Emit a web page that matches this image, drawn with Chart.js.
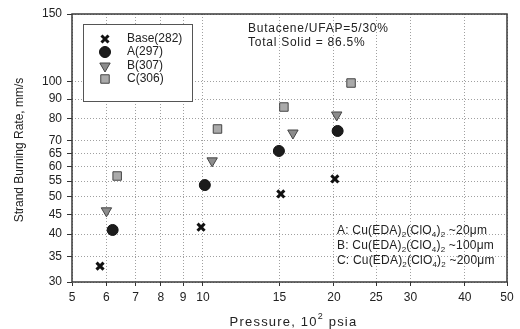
<!DOCTYPE html>
<html>
<head>
<meta charset="utf-8">
<script src="https://cdn.jsdelivr.net/npm/chart.js@4/dist/chart.umd.min.js"></script>
<style>
  html, body { margin: 0; padding: 0; background: #fff; }
  #wrap { width: 520px; height: 329px; }
</style>
</head>
<body>
<div id="wrap"><canvas id="chart"></canvas></div>
<script>
// pressure (10^2 psia) and burning rate (mm/s)
const pressureBase = [5.8, 9.9, 15.1, 20.1];
const rateBase = [33.0, 41.7, 50.9, 55.7];
const pressureA = [6.2, 10.1, 14.95, 20.4];
const rateA = [41.0, 53.7, 65.9, 74.3];
const pressureB = [6.0, 10.5, 16.1, 20.3];
const rateB = [46.0, 62.1, 73.4, 81.8];
const pressureC = [6.35, 10.8, 15.35, 21.9];
const rateC = [56.7, 75.2, 85.8, 99.1];

const seriesNames = ['Base(282)', 'A(297)', 'B(307)', 'C(306)'];
const xTicks = [5, 6, 7, 8, 9, 10, 15, 20, 25, 30, 40, 50];
const yTicks = [30, 35, 40, 45, 50, 55, 60, 65, 70, 80, 90, 100, 150];

const FONT = 'Liberation Sans, Arial, sans-serif';

const toPts = (xs, ys) => xs.map((x, i) => ({ x: x, y: ys[i] }));

const styles = [
    { pointStyle: 'crossRot', radius: 5, borderWidth: 3, borderColor: '#111', backgroundColor: '#111', rotation: 0 },
    { pointStyle: 'circle', radius: 5.5, borderWidth: 1, borderColor: '#111', backgroundColor: '#1c1c1c', rotation: 0 },
    { pointStyle: 'triangle', radius: 6, borderWidth: 1, borderColor: '#444', backgroundColor: '#8c8c8c', rotation: 180 },
    { pointStyle: 'rect', radius: 6, borderWidth: 1, borderColor: '#444', backgroundColor: '#aaaaaa', rotation: 0 },
];

const allData = [
    toPts(pressureBase, rateBase),
    toPts(pressureA, rateA),
    toPts(pressureB, rateB),
    toPts(pressureC, rateC),
];

const datasets = allData.map((d, i) => ({
    label: seriesNames[i],
    data: d,
    showLine: false,
    pointStyle: styles[i].pointStyle,
    pointRadius: styles[i].radius,
    pointHoverRadius: styles[i].radius,
    pointBorderWidth: styles[i].borderWidth,
    pointBorderColor: styles[i].borderColor,
    pointBackgroundColor: styles[i].backgroundColor,
    pointRotation: styles[i].rotation,
}));

// draw text with subscript / superscript pieces: parts = [[text, shift], ...]
function drawRich(ctx, parts, x, y, size, small) {
    let cx = x;
    parts.forEach((p) => {
        if (p[1]) {
            ctx.font = small + 'px ' + FONT;
            ctx.fillText(p[0], cx, y + p[1]);
        } else {
            ctx.font = size + 'px ' + FONT;
            ctx.fillText(p[0], cx, y);
        }
        cx += ctx.measureText(p[0]).width;
    });
    return cx - x;
}

const extras = {
    id: 'extras',
    afterDatasetsDraw(chart) {
        const ctx = chart.ctx;
        const a = chart.chartArea;
        ctx.save();

        // plot frame
        ctx.strokeStyle = '#3a3a3a';
        ctx.lineWidth = 1.5;
        ctx.strokeRect(a.left, a.top, a.right - a.left, a.bottom - a.top);

        // legend box
        ctx.fillStyle = '#fff';
        ctx.fillRect(83, 24, 109, 77);
        ctx.strokeStyle = '#555';
        ctx.lineWidth = 1;
        ctx.strokeRect(83.5, 24.5, 109, 77);
        const rows = [39, 52, 66, 79];
        rows.forEach((ry, i) => {
            const s = styles[i];
            ctx.fillStyle = s.backgroundColor;
            ctx.strokeStyle = s.borderColor;
            ctx.lineWidth = s.borderWidth;
            if (Chart.helpers && Chart.helpers.drawPoint) {
                Chart.helpers.drawPoint(ctx, {
                    pointStyle: s.pointStyle, radius: s.radius, rotation: s.rotation, borderWidth: s.borderWidth
                }, 105, ry);
            }
            ctx.fillStyle = '#222';
            ctx.font = '12px ' + FONT;
            ctx.textBaseline = 'middle';
            ctx.textAlign = 'left';
            ctx.fillText(seriesNames[i], 127, ry);
        });

        // composition notes
        ctx.fillStyle = '#222';
        ctx.textBaseline = 'middle';
        ctx.textAlign = 'left';
        ctx.letterSpacing = '0.75px';
        ctx.font = '12px ' + FONT;
        ctx.fillText('Butacene/UFAP=5/30%', 248, 29);
        ctx.fillText('Total Solid = 86.5%', 248, 43);

        ctx.letterSpacing = '0.2px';
        const notes = [['A', '~20\u03bcm', 231], ['B', '~100\u03bcm', 246], ['C', '~200\u03bcm', 261]];
        notes.forEach((n) => {
            drawRich(ctx, [[n[0] + ': Cu(EDA)', 0], ['2', 4], ['(ClO', 0], ['4', 4], [')', 0], ['2', 4], [' ' + n[1], 0]], 337, n[2], 12, 8);
        });

        // axis titles
        ctx.letterSpacing = '1.2px';
        const xParts = [['Pressure, 10', 0], ['2', -5], [' psia', 0]];
        const measure = document.createElement('canvas').getContext('2d');
        measure.letterSpacing = '1.2px';
        let w = 0;
        xParts.forEach((p) => {
            measure.font = (p[1] ? 9 : 13) + 'px ' + FONT;
            w += measure.measureText(p[0]).width;
        });
        drawRich(ctx, xParts, (a.left + a.right) / 2 - w / 2 + 4, 322, 13, 9);

        ctx.letterSpacing = '0px';
        ctx.translate(20, 150);
        ctx.rotate(-Math.PI / 2);
        ctx.textAlign = 'center';
        ctx.font = '12px ' + FONT;
        ctx.fillText('Strand Burning Rate, mm/s', 0, 0);
        ctx.restore();
    }
};

const gridOpts = (len) => ({
    color: '#a0a0a0',
    lineWidth: 1,
    tickLength: len,
    tickColor: '#333',
    tickBorderDash: [],
});

new Chart(document.getElementById('chart'), {
    type: 'scatter',
    data: { datasets: datasets },
    options: {
        responsive: true,
        maintainAspectRatio: false,
        animation: false,
        layout: { padding: { top: 14, right: 13, left: 0, bottom: 0 } },
        plugins: { legend: { display: false }, tooltip: { enabled: false } },
        scales: {
            x: {
                type: 'logarithmic',
                min: 5,
                max: 50,
                afterBuildTicks: (scale) => { scale.ticks = xTicks.map((v) => ({ value: v })); },
                afterFit: (scale) => { scale.height = 47; },
                ticks: {
                    autoSkip: false,
                    maxRotation: 0,
                    padding: 4,
                    color: '#222',
                    font: { family: FONT, size: 12 },
                    callback: (v) => String(v),
                },
                grid: gridOpts(4),
                border: { display: false, dash: [1, 2] },
            },
            y: {
                type: 'logarithmic',
                min: 30,
                max: 150,
                afterBuildTicks: (scale) => { scale.ticks = yTicks.map((v) => ({ value: v })); },
                afterFit: (scale) => { scale.width = 72; },
                ticks: {
                    autoSkip: false,
                    padding: 5,
                    color: '#222',
                    font: { family: FONT, size: 12 },
                    callback: (v) => String(v),
                },
                grid: gridOpts(5),
                border: { display: false, dash: [1, 2] },
            },
        },
    },
    plugins: [extras],
});
</script>
</body>
</html>
